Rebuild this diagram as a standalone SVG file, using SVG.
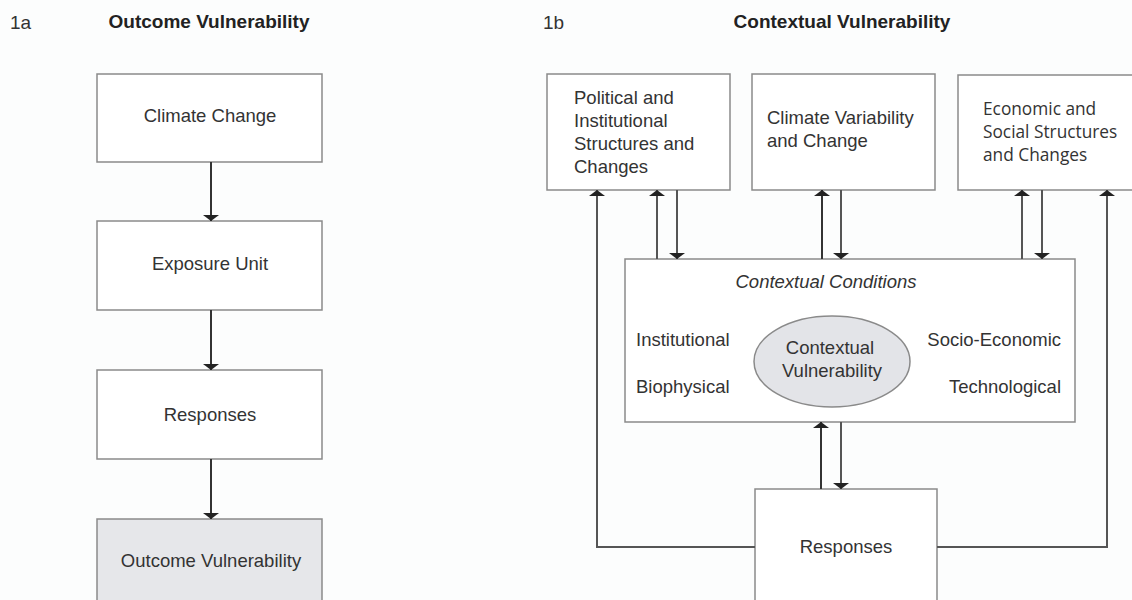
<svg xmlns="http://www.w3.org/2000/svg" width="1132" height="600" viewBox="0 0 1132 600">
<style>
text{font-family:"Liberation Sans",Arial,sans-serif;fill:#333;font-size:18.5px}
.title{font-weight:bold;font-size:19px;fill:#222}
.lbl{font-size:19px}
.box{fill:#fff;stroke:#8a8a8a;stroke-width:1.5}
.grey{fill:#e6e7ea;stroke:#8a8a8a;stroke-width:1.5}
.c{text-anchor:middle}
.r{text-anchor:end}
.it{font-style:italic}
.hum{font-family:"Open Sans","Noto Sans",sans-serif;font-size:17.3px}
.ln{fill:none;stroke:#333;stroke-width:2}
.ln2{fill:none;stroke:#555;stroke-width:2}
</style>
<defs>
<marker id="ah" viewBox="0 0 6 16" refX="6" refY="8" markerWidth="6" markerHeight="16" markerUnits="userSpaceOnUse" orient="auto">
<path d="M0,0 L6,8 L0,16 z" fill="#222"/>
</marker>
</defs>
<rect x="0" y="0" width="1132" height="600" fill="#fcfdfd"/>

<text class="lbl" x="10" y="29">1a</text>
<text class="title c" x="209" y="28">Outcome Vulnerability</text>
<text class="lbl" x="543" y="29">1b</text>
<text class="title c" x="842" y="28">Contextual Vulnerability</text>

<g id="cc"><rect class="box" x="97" y="74" width="225" height="88"/><text class="c" x="210" y="122">Climate Change</text></g>
<g id="eu"><rect class="box" x="97" y="221" width="225" height="89"/><text class="c" x="210" y="270">Exposure Unit</text></g>
<g id="rs1"><rect class="box" x="97" y="370" width="225" height="89"/><text class="c" x="210" y="421">Responses</text></g>
<g id="ov"><rect class="grey" x="97" y="519" width="225" height="95"/><text class="c" x="211" y="567">Outcome Vulnerability</text></g>

<g id="pol"><rect class="box" x="547" y="74" width="183" height="116"/>
<text x="574" y="104">Political and</text><text x="574" y="127">Institutional</text><text x="574" y="150">Structures and</text><text x="574" y="173">Changes</text></g>
<g id="cvc"><rect class="box" x="752" y="74" width="183" height="116"/>
<text x="767" y="124">Climate Variability</text><text x="767" y="147">and Change</text></g>
<g id="eco"><rect class="box" x="958" y="75" width="190" height="115"/>
<text class="hum" x="983" y="115">Economic and</text><text class="hum" x="983" y="138">Social Structures</text><text class="hum" x="983" y="161">and Changes</text></g>

<g id="ctx"><rect class="box" x="625" y="259" width="450" height="163"/>
<text class="c it" x="826" y="288">Contextual Conditions</text>
<text x="636" y="346">Institutional</text>
<text x="636" y="393">Biophysical</text>
<text class="r" x="1061" y="346">Socio-Economic</text>
<text class="r" x="1061" y="393">Technological</text>
</g>
<g id="cv"><ellipse cx="832" cy="361.5" rx="78" ry="45.5" fill="#e3e4e8" stroke="#8a8a8a" stroke-width="1.5"/>
<text class="c" x="830" y="354">Contextual</text><text class="c" x="832" y="377">Vulnerability</text></g>

<g id="rs2"><rect class="box" x="755" y="489" width="182" height="125"/><text class="c" x="846" y="553">Responses</text></g>

<g id="connectors">
<line class="ln" x1="211" y1="162" x2="211" y2="221" marker-end="url(#ah)"/>
<line class="ln" x1="211" y1="310" x2="211" y2="370" marker-end="url(#ah)"/>
<line class="ln" x1="211" y1="459" x2="211" y2="519" marker-end="url(#ah)"/>

<line class="ln2" x1="657" y1="259" x2="657" y2="190" marker-end="url(#ah)"/>
<line class="ln2" x1="677" y1="190" x2="677" y2="259" marker-end="url(#ah)"/>
<line class="ln" x1="822" y1="259" x2="822" y2="190" marker-end="url(#ah)"/>
<line class="ln2" x1="841" y1="190" x2="841" y2="259" marker-end="url(#ah)"/>
<line class="ln2" x1="1022" y1="259" x2="1022" y2="190" marker-end="url(#ah)"/>
<line class="ln2" x1="1042" y1="190" x2="1042" y2="259" marker-end="url(#ah)"/>

<line class="ln" x1="821" y1="489" x2="821" y2="422" marker-end="url(#ah)"/>
<line class="ln2" x1="841" y1="422" x2="841" y2="489" marker-end="url(#ah)"/>

<path class="ln2" d="M755,547 H597 V190" marker-end="url(#ah)"/>
<path class="ln2" d="M937,547 H1107 V190" marker-end="url(#ah)"/>
</g>
</svg>
